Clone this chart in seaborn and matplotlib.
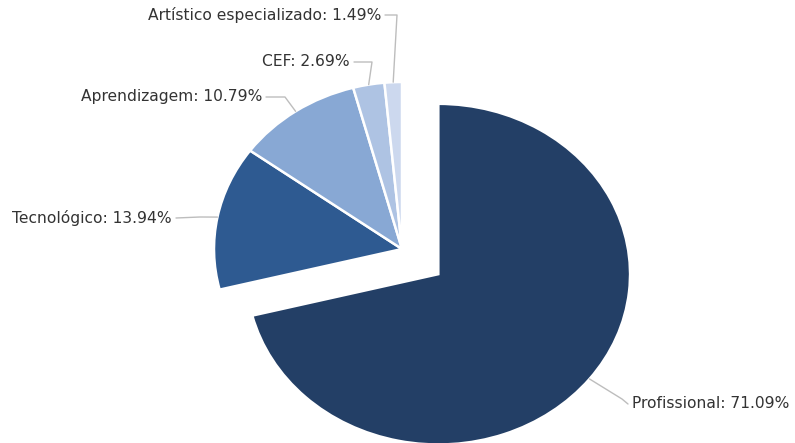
import numpy as np
import matplotlib
matplotlib.use("Agg")
import matplotlib.pyplot as plt
import seaborn as sns

categories = ["Profissional", "Tecnológico", "Aprendizagem", "CEF", "Artístico especializado"]
values = [71.09, 13.94, 10.79, 2.69, 1.49]
colors = ["#233f66", "#2e5a91", "#88a8d4", "#aec3e3", "#ccd8ee"]
explode = [0.245, 0, 0, 0, 0]
radii = [1.02, 1.0, 1.0, 1.0, 1.0]

sns.set_theme(style="white")
plt.rcParams["font.family"] = ["DejaVu Sans"]

W, H = 795, 443
fig = plt.figure(figsize=(W / 100, H / 100), dpi=100)
ax = fig.add_axes([0, 0, 1, 1])

cx, cy = 402, 249       # pie centre in pixels (from top-left)
rx, ry = 188, 167       # horizontal / vertical radius in pixels

wedges, _ = ax.pie(values, colors=colors, startangle=90, counterclock=False,
                   explode=explode, radius=1.0,
                   wedgeprops=dict(edgecolor="white", linewidth=1.8))
for w, r in zip(wedges, radii):
    w.set_radius(r)
ax.set_aspect("auto")
ax.set_xlim(-cx / rx, (W - cx) / rx)
ax.set_ylim(-(H - cy) / ry, cy / ry)
ax.axis("off")


def px(x, y):
    return x / rx - cx / rx, (cy - y) / ry


# label layout: (text anchor px, ha, elbow px)
layout = [
    ((632, 404), "left", (622, 399)),
    ((172, 218), "right", (200, 217)),
    ((262, 97), "right", (285, 97)),
    ((350, 62), "right", (372, 62)),
    ((381, 15), "right", (397, 15)),
]

total = sum(values)
start = 90.0
for i, (cat, v) in enumerate(zip(categories, values)):
    span = v / total * 360
    mid = np.deg2rad(start - span / 2)
    start -= span
    ex = explode[i]
    ax_x = np.cos(mid) * (radii[i] + ex)
    ax_y = np.sin(mid) * (radii[i] + ex)
    (tx, ty), ha, (ex_px, ey_px) = layout[i]
    tdx, tdy = px(tx, ty)
    elx, ely = px(ex_px, ey_px)
    if ha == "right":
        lx0 = px(tx + 4, ty)[0]
    else:
        lx0 = px(tx - 4, ty)[0]
    ax.plot([lx0, elx, ax_x], [tdy, ely, ax_y], color="#bdbdbd", lw=1.0,
            solid_joinstyle="round")
    ax.text(tdx, tdy, f"{cat}: {v:.2f}%", ha=ha, va="center",
            fontsize=11.2, color="#333333")

fig.savefig("out.png", dpi=100)
